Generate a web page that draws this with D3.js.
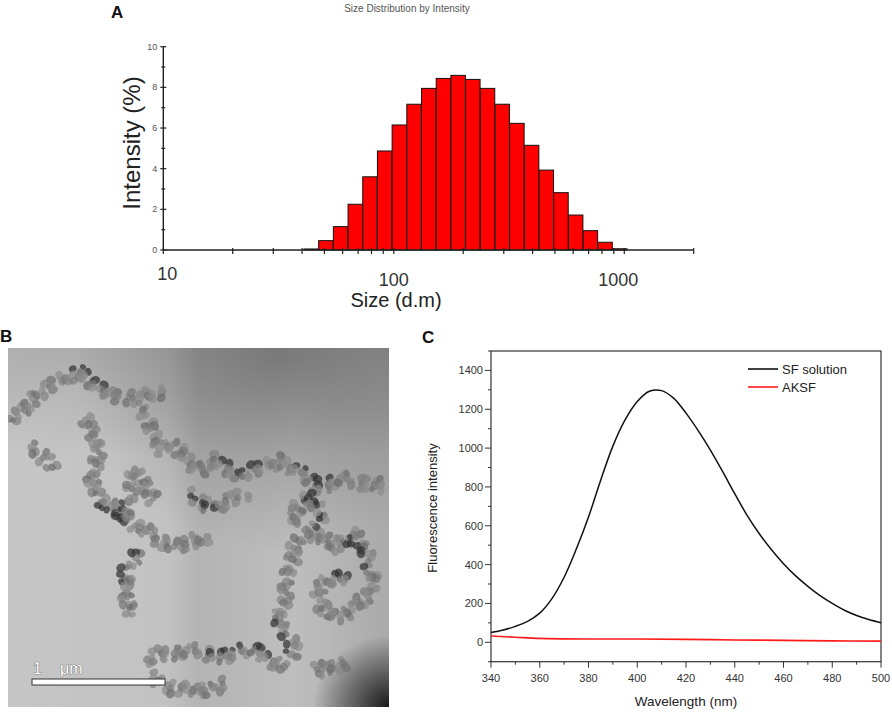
<!DOCTYPE html>
<html><head><meta charset="utf-8">
<script src="https://cdn.jsdelivr.net/npm/d3@7"></script>
<style>body{margin:0;background:#fff}svg{display:block}text{font-family:"Liberation Sans",Arial,sans-serif}</style>
</head><body>
<svg id="chart" width="892" height="714"></svg>
<script>
// ---------- Panel A data (Zetasizer size bins, intensity %) ----------
const sizeBins = [43.82,50.75,58.77,68.06,78.82,91.28,105.7,122.4,141.8,164.2,190.1,220.2,255.0,295.3,342.0,396.1,458.7,531.2,615.1,712.4,825.0,955.4];
const intensityPct = [0.05,0.46,1.15,2.25,3.6,4.87,6.15,7.17,7.95,8.44,8.59,8.39,7.95,7.17,6.23,5.15,3.93,2.82,1.72,0.95,0.38,0.06];
const sizeMajorTicks = [10,100,1000];
const sizeMinorTicks = [20,30,40,50,60,70,80,90,200,300,400,500,600,700,800,900,2000];
const intensityMajorTicks = [0,2,4,6,8,10];
const intensityMinorTicks = [1,3,5,7,9];

// ---------- Panel C data ----------
const wavelength = [340,345,350,355,360,365,370,375,380,385,390,395,400,405,410,415,420,425,430,435,440,445,450,455,460,465,470,475,480,485,490,495,500];
const sfSolution = [50,63,82,108,150,225,335,480,645,835,1010,1145,1240,1293,1296,1256,1180,1090,990,880,765,655,560,478,405,342,288,240,200,165,138,117,101];
const aksfWavelength = [340,350,360,380,400,420,440,460,480,500];
const aksf = [32,26,20,17,17,15,12,10,7,6];
const wlTicks = [340,360,380,400,420,440,460,480,500];
const wlMinor = [350,370,390,410,430,450,470,490];
const fiTicks = [0,200,400,600,800,1000,1200,1400];
const fiMinor = [-100,100,300,500,700,900,1100,1300,1500];
const seriesNames = ["SF solution","AKSF"];
const seriesColors = ["#111","#ff1a1a"];

// ---------- Panel B (TEM micrograph illustration) particle chains ----------
const temChains = [
 [[13,420],[33,400],[53,383],[80,373],[100,387],[113,397],[140,397],[167,393]],
 [[33,447],[47,460],[53,473]],
 [[87,420],[93,437],[100,453],[90,477],[100,500],[120,513],[140,527],[157,540],[180,547],[200,540],[213,533]],
 [[143,410],[150,430],[160,447],[173,447],[187,460],[200,470],[213,460],[227,467],[243,477],[260,467],[280,460]],
 [[127,517],[133,470],[147,487],[157,503]],
 [[190,497],[213,507],[233,500],[253,493]],
 [[140,553],[127,570],[123,587],[130,603],[133,620]],
 [[280,460],[300,473],[320,487],[340,480],[367,483],[387,487]],
 [[290,520],[300,507],[313,493],[320,513],[313,533],[293,547],[290,567],[287,587],[280,610],[283,630],[293,647],[290,660]],
 [[320,537],[333,547],[353,533],[367,553],[373,573],[367,597],[353,610],[333,617],[320,607],[320,587],[333,577],[353,580]],
 [[147,660],[167,653],[187,650],[213,657],[233,653],[253,650],[273,660],[287,670]],
 [[153,680],[173,687],[200,693],[227,680]],
 [[317,670],[333,667],[350,663]]
];

const svg = d3.select("#chart");
svg.append("rect").attr("width",892).attr("height",714).attr("fill","#fff");

// ================= Panel A =================
const xA = d3.scaleLog().domain([10,2000]).range([163.3,693.7]);
const yA = d3.scaleLinear().domain([0,10]).range([250,46.7]);
const gA = svg.append("g");
const ratio = Math.pow(10, Math.log10(10000/0.4)/70);
gA.selectAll("rect.bar").data(sizeBins).join("rect").attr("class","bar")
  .attr("x", d => xA(d/Math.sqrt(ratio)))
  .attr("width", d => xA(d*Math.sqrt(ratio)) - xA(d/Math.sqrt(ratio)))
  .attr("y", (d,i) => yA(intensityPct[i]))
  .attr("height", (d,i) => yA(0) - yA(intensityPct[i]))
  .attr("fill","#ff0000").attr("stroke","#111").attr("stroke-width",1);

const axA = gA.append("g").attr("transform",`translate(0,${yA(0)})`);
axA.append("line").attr("x1",xA(10)).attr("x2",xA(2000)).attr("stroke","#222").attr("stroke-width",1.4);
axA.selectAll("line.mj").data(sizeMajorTicks.concat(sizeMinorTicks)).join("line").attr("class","mj")
  .attr("x1",d=>xA(d)).attr("x2",d=>xA(d)).attr("y1",-2).attr("y2",4).attr("stroke","#222").attr("stroke-width",1.2);
axA.selectAll("text").data(sizeMajorTicks).join("text")
  .attr("x",d=>xA(d)+ (d===10?4:(d===1000?-6:0))).attr("y",d=> d===10?30:36)
  .attr("text-anchor","middle").attr("font-size",18).attr("fill","#333").text(d=>d);

const ayA = gA.append("g").attr("transform",`translate(${xA(10)},0)`);
ayA.append("line").attr("y1",yA(0)).attr("y2",yA(10)).attr("stroke","#222").attr("stroke-width",1.4);
ayA.selectAll("line.mj").data(intensityMajorTicks).join("line").attr("class","mj")
  .attr("x1",-3).attr("x2",3).attr("y1",d=>yA(d)).attr("y2",d=>yA(d)).attr("stroke","#222").attr("stroke-width",1.2);
ayA.selectAll("line.mn").data(intensityMinorTicks).join("line").attr("class","mn")
  .attr("x1",-2).attr("x2",2).attr("y1",d=>yA(d)).attr("y2",d=>yA(d)).attr("stroke","#222").attr("stroke-width",1.2);
ayA.selectAll("text").data(intensityMajorTicks).join("text")
  .attr("x",-6).attr("y",d=>yA(d)+3).attr("text-anchor","end").attr("font-size",9).attr("fill","#555").text(d=>d);

gA.append("text").attr("transform","translate(140,143) rotate(-90)").attr("text-anchor","middle")
  .attr("font-size",24).attr("fill","#222").text("Intensity (%)");
gA.append("text").attr("x",396).attr("y",307).attr("text-anchor","middle").attr("font-size",20).attr("fill","#222").text("Size (d.m)");
gA.append("text").attr("x",407).attr("y",12).attr("text-anchor","middle").attr("font-size",10).attr("fill","#555").text("Size Distribution by Intensity");
gA.append("text").attr("x",111).attr("y",18).attr("font-size",17).attr("font-weight","bold").attr("fill","#111").text("A");

// ================= Panel B (micrograph) =================
const gB = svg.append("g");
const defs = svg.append("defs");
const lg = defs.append("linearGradient").attr("id","bgH");
[[0,"#c6c6c6"],[0.42,"#c2c2c2"],[0.5,"#b4b4b4"],[0.75,"#bebebe"],[1,"#aaaaaa"]].forEach(s=>lg.append("stop").attr("offset",s[0]).attr("stop-color",s[1]));
const lv = defs.append("linearGradient").attr("id","bgV").attr("x1",0).attr("y1",0).attr("x2",0).attr("y2",1);
lv.append("stop").attr("offset",0).attr("stop-color","#000").attr("stop-opacity",0.12);
lv.append("stop").attr("offset",0.3).attr("stop-color","#000").attr("stop-opacity",0);
const rg1 = defs.append("radialGradient").attr("id","tr").attr("cx",0.72).attr("cy",0.02).attr("r",0.55);
rg1.append("stop").attr("offset",0).attr("stop-color","#000").attr("stop-opacity",0.28);
rg1.append("stop").attr("offset",1).attr("stop-color","#000").attr("stop-opacity",0);
const rg2 = defs.append("radialGradient").attr("id","br").attr("cx",1).attr("cy",1).attr("r",0.2);
rg2.append("stop").attr("offset",0).attr("stop-color","#000").attr("stop-opacity",0.85);
rg2.append("stop").attr("offset",1).attr("stop-color","#000").attr("stop-opacity",0);
defs.append("clipPath").attr("id","clipB").append("rect").attr("x",8).attr("y",348).attr("width",381).attr("height",359);

const img = gB.append("g").attr("clip-path","url(#clipB)");
["url(#bgH)","url(#bgV)","url(#tr)","url(#br)"].forEach(f=>
  img.append("rect").attr("x",8).attr("y",348).attr("width",381).attr("height",359).attr("fill",f));

const particles = [];
temChains.forEach((chain,c) => {
  let k = 0;
  for (let s=0; s<chain.length-1; s++) {
    const [x0,y0]=chain[s],[x1,y1]=chain[s+1];
    const len=Math.hypot(x1-x0,y1-y0), n=Math.max(1,Math.round(len/6.5));
    const tx=(x1-x0)/len, ty=(y1-y0)/len, nx=-ty, ny=tx;
    for (let i=0;i<n;i++,k++) {
      const t=i/n, bx=x0+(x1-x0)*t, by=y0+(y1-y0)*t;
      [-1,0,1].forEach(side=>{
        const q = Math.sin(k*2.3+c*1.7+side*1.1);
        if (side!==0 && Math.abs(q) < 0.35) return;
        const off = side*(3.5+2.5*Math.abs(Math.sin(k*1.9+c))) + 1.5*Math.sin(k*0.9+c);
        const along = 2*Math.sin(k*3.7+side);
        const r = 2.6+1.6*Math.abs(Math.sin(k*2.7+c*1.3+side));
        const shade = 105+Math.round(35*Math.abs(Math.sin(k*1.3+c+side*0.7)));
        const dark = Math.abs(Math.sin(k*3.1+c*2.2+side)) > 0.985;
        particles.push({x:bx+nx*off+tx*along, y:by+ny*off+ty*along, rx:r*1.2, ry:r, a:(k*47+c*31)%180,
          col: dark?"#333":d3.rgb(shade,shade,shade).toString()});
      });
    }
  }
});
img.selectAll("ellipse").data(particles).join("ellipse")
  .attr("cx",d=>d.x).attr("cy",d=>d.y).attr("rx",d=>d.rx).attr("ry",d=>d.ry)
  .attr("transform",d=>`rotate(${d.a},${d.x},${d.y})`)
  .attr("fill",d=>d.col).attr("fill-opacity",0.72);

gB.append("rect").attr("x",32).attr("y",679).attr("width",133).attr("height",6).attr("fill","#fff").attr("stroke","#333").attr("stroke-width",1);
gB.append("text").attr("x",33).attr("y",674).attr("font-size",16).attr("fill","#fff").attr("stroke","#444").attr("stroke-width",0.7).attr("paint-order","stroke").text("1");
gB.append("text").attr("x",60).attr("y",674).attr("font-size",16).attr("fill","#fff").attr("stroke","#444").attr("stroke-width",0.7).attr("paint-order","stroke").text("μm");
gB.append("text").attr("x",0).attr("y",342).attr("font-size",17).attr("font-weight","bold").attr("fill","#111").text("B");

// ================= Panel C =================
const xC = d3.scaleLinear().domain([340,500]).range([491,881]);
const yC = d3.scaleLinear().domain([-100,1500]).range([661.7,351]);
const gC = svg.append("g");
gC.append("rect").attr("x",491).attr("y",351).attr("width",390).attr("height",310.7).attr("fill","none").attr("stroke","#333").attr("stroke-width",1.2);

const axC = gC.append("g").attr("transform",`translate(0,661.7)`);
axC.selectAll("line.mj").data(wlTicks).join("line").attr("class","mj").attr("x1",d=>xC(d)).attr("x2",d=>xC(d)).attr("y1",0).attr("y2",6).attr("stroke","#333");
axC.selectAll("line.mn").data(wlMinor).join("line").attr("class","mn").attr("x1",d=>xC(d)).attr("x2",d=>xC(d)).attr("y1",0).attr("y2",3).attr("stroke","#333");
axC.selectAll("text").data(wlTicks).join("text").attr("x",d=>xC(d)).attr("y",20).attr("text-anchor","middle").attr("font-size",11).attr("fill","#333").text(d=>d);

const ayC = gC.append("g").attr("transform",`translate(491,0)`);
ayC.selectAll("line.mj").data(fiTicks).join("line").attr("class","mj").attr("x1",-6).attr("x2",0).attr("y1",d=>yC(d)).attr("y2",d=>yC(d)).attr("stroke","#333");
ayC.selectAll("line.mn").data(fiMinor).join("line").attr("class","mn").attr("x1",-3).attr("x2",0).attr("y1",d=>yC(d)).attr("y2",d=>yC(d)).attr("stroke","#333");
ayC.selectAll("text").data(fiTicks).join("text").attr("x",-8).attr("y",d=>yC(d)+4).attr("text-anchor","end").attr("font-size",11).attr("fill","#333").text(d=>d);

const line = d3.line().curve(d3.curveCatmullRom.alpha(0.5));
gC.append("path").attr("d", line(wavelength.map((w,i)=>[xC(w), yC(sfSolution[i])])))
  .attr("fill","none").attr("stroke",seriesColors[0]).attr("stroke-width",1.5);
gC.append("path").attr("d", line(aksfWavelength.map((w,i)=>[xC(w), yC(aksf[i])])))
  .attr("fill","none").attr("stroke",seriesColors[1]).attr("stroke-width",1.6);

const leg = gC.append("g");
seriesNames.forEach((n,i)=>{
  leg.append("line").attr("x1",748).attr("x2",778).attr("y1",369+18*i).attr("y2",369+18*i).attr("stroke",seriesColors[i]).attr("stroke-width",1.6);
  leg.append("text").attr("x",782).attr("y",374+18*i).attr("font-size",13).attr("fill","#222").text(n);
});

gC.append("text").attr("transform","translate(437,508) rotate(-90)").attr("text-anchor","middle").attr("font-size",13).attr("fill","#222").text("Fluorescence intensity");
gC.append("text").attr("x",686).attr("y",706).attr("text-anchor","middle").attr("font-size",13.5).attr("fill","#222").text("Wavelength (nm)");
gC.append("text").attr("x",422).attr("y",343).attr("font-size",17).attr("font-weight","bold").attr("fill","#111").text("C");
</script>
</body></html>
